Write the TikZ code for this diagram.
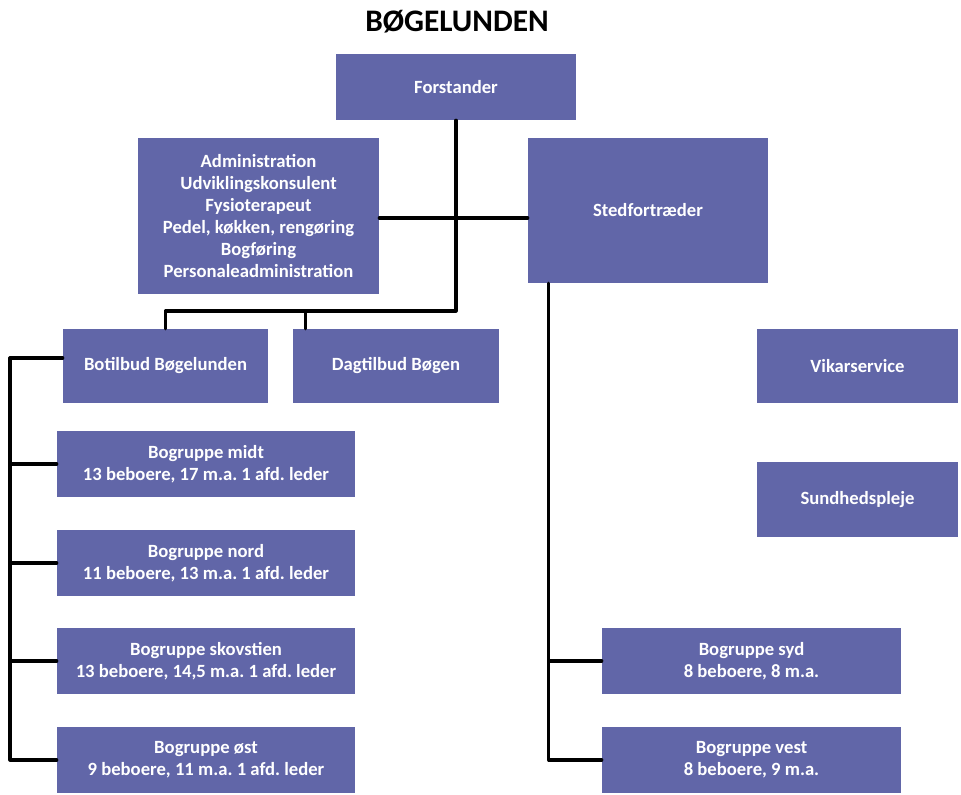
\documentclass[tikz,border=0pt]{standalone}
\usepackage{fontspec}
\setmainfont{Carlito}
\usepackage{tikz}
\usetikzlibrary{positioning}
\definecolor{boxblue}{RGB}{97,102,168}
\frenchspacing

\tikzset{
	unit/.style={box, minimum width=#1*0.75pt},
	box/.style={fill=boxblue, text=white, align=center, inner sep=0pt,
		font=\bfseries\fontsize{14}{16.6}\selectfont},
	tall/.style={minimum height=#1*0.75pt},
	conn/.style={line width=2.4pt, line cap=round, line join=round}
}

\begin{document}
\begin{tikzpicture}[x=0.75pt,y=-0.75pt]
	\useasboundingbox (0,0) rectangle (961,795);
	\node[font=\bfseries\fontsize{23.5}{27}\selectfont] (title) at (457,22) {BØGELUNDEN};
	% top level
	\node[unit=240,tall=66] (forst) at (456,87) {Forstander};
	\node[unit=241,tall=156] (admin) at (258.5,216)
		{Administration\\Udviklingskonsulent\\Fysioterapeut\\Pedel, køkken, rengøring\\Bogføring\\Personaleadministration};
	\node[unit=240,tall=145] (sted) at (648,210.5) {Stedfortræder};
	% second level
	\node[unit=205,tall=74] (botil) at (165.5,366) {Botilbud Bøgelunden};
	\node[unit=206,tall=74] (dagtil) at (396,366) {Dagtilbud Bøgen};
	\node[unit=201,tall=74] (vikar) at (857.5,366) {Vikarservice};
	\node[unit=201,tall=75] (sund) at (857.5,499.5) {Sundhedspleje};
	% bogrupper
	\node[unit=298,tall=66] (midt) at (206,464) {Bogruppe midt\\13 beboere, 17 m.a. 1 afd. leder};
	\node[unit=298,tall=66] (nord) at (206,563) {Bogruppe nord\\11 beboere, 13 m.a. 1 afd. leder};
	\node[unit=298,tall=66] (skov) at (206,661) {Bogruppe skovstien\\13 beboere, 14,5 m.a. 1 afd. leder};
	\node[unit=298,tall=66] (oest) at (206,760) {Bogruppe øst\\9 beboere, 11 m.a. 1 afd. leder};
	\node[unit=299,tall=66] (syd) at (751.5,661) {Bogruppe syd\\8 beboere, 8 m.a.};
	\node[unit=299,tall=66] (vest) at (751.5,760) {Bogruppe vest\\8 beboere, 9 m.a.};

	\coordinate (bus) at (forst.south |- 0,311);
	\coordinate (spine) at (10,0);
	\coordinate (stedfoot) at ([xshift=15.75pt]sted.south west);

	\draw[conn] (forst.south) -- (bus) -| (botil.north);
	\draw[conn] ([xshift=9.75pt]dagtil.north west |- bus) -- ([xshift=9.75pt]dagtil.north west);
	\draw[conn] ([yshift=-1.5pt]admin.east) -- ([yshift=-1.5pt]admin.east -| sted.west);
	\draw[conn] ([yshift=6pt]botil.west) -| (spine |- oest.west) -- (oest.west);
	\foreach \grp in {midt,nord,skov}{
		\draw[conn] (spine |- \grp.west) -- (\grp.west);
	}
	\draw[conn] (stedfoot) |- (vest.west);
	\draw[conn] (stedfoot |- syd.west) -- (syd.west);
\end{tikzpicture}
\end{document}
